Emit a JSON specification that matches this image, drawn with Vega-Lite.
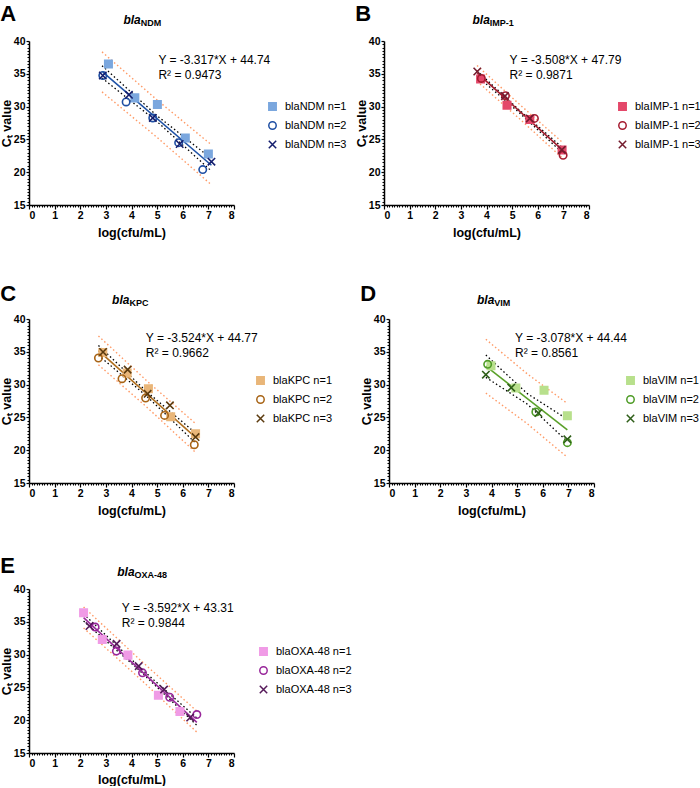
{
"$schema": "https://vega.github.io/schema/vega-lite/v6.json",
"padding": {"left": 0, "top": 2, "right": 40, "bottom": 0},
"background": "white",
"config": {
 "view": {"stroke": null},
 "axis": {"grid": false, "domainColor": "black", "domainWidth": 1.5, "tickColor": "black", "tickWidth": 1.2, "labelFont": "Liberation Sans", "labelFontWeight": "bold", "labelFontSize": 10.5, "labelColor": "black", "titleFont": "Liberation Sans", "titleFontWeight": "bold", "titleFontSize": 12.5, "titleColor": "black"},
 "title": {"anchor": "start", "frame": "bounds", "fontSize": 22, "fontWeight": "bold", "font": "Liberation Sans", "color": "black", "offset": -12},
 "text": {"font": "Liberation Sans", "color": "black"},
 "legend": {"labelFont": "Liberation Sans", "labelFontSize": 11, "labelColor": "black", "labelLimit": 300, "symbolSize": 55, "symbolStrokeWidth": 1.5, "rowPadding": 4, "labelOffset": 7}
},
"datasets": {
 "pts": [
  {"panel":"A","series":"n=1","x":3.10,"y":36.48},{"panel":"A","series":"n=1","x":4.13,"y":31.33},{"panel":"A","series":"n=1","x":5.01,"y":30.31},{"panel":"A","series":"n=1","x":6.10,"y":25.2},{"panel":"A","series":"n=1","x":7.00,"y":22.76},
  {"panel":"A","series":"n=2","x":2.88,"y":34.74},{"panel":"A","series":"n=2","x":3.79,"y":30.71},{"panel":"A","series":"n=2","x":4.83,"y":28.27},{"panel":"A","series":"n=2","x":5.84,"y":24.5},{"panel":"A","series":"n=2","x":6.78,"y":20.4},
  {"panel":"A","series":"n=3","x":2.88,"y":34.74},{"panel":"A","series":"n=3","x":3.90,"y":31.8},{"panel":"A","series":"n=3","x":4.83,"y":28.27},{"panel":"A","series":"n=3","x":5.88,"y":24.3},{"panel":"A","series":"n=3","x":7.12,"y":21.6},
  {"panel":"B","series":"n=1","x":3.77,"y":34.2},{"panel":"B","series":"n=1","x":4.80,"y":30.2},{"panel":"B","series":"n=1","x":5.69,"y":28.05},{"panel":"B","series":"n=1","x":6.95,"y":23.4},
  {"panel":"B","series":"n=2","x":3.80,"y":34.3},{"panel":"B","series":"n=2","x":4.74,"y":31.65},{"panel":"B","series":"n=2","x":5.87,"y":28.2},{"panel":"B","series":"n=2","x":6.99,"y":22.58},
  {"panel":"B","series":"n=3","x":3.64,"y":35.35},{"panel":"B","series":"n=3","x":4.72,"y":31.6},{"panel":"B","series":"n=3","x":5.69,"y":28.2},{"panel":"B","series":"n=3","x":6.94,"y":23.4},
  {"panel":"C","series":"n=1","x":2.88,"y":34.9},{"panel":"C","series":"n=1","x":3.83,"y":31.77},{"panel":"C","series":"n=1","x":4.66,"y":29.38},{"panel":"C","series":"n=1","x":5.53,"y":25.11},{"panel":"C","series":"n=1","x":6.50,"y":22.52},
  {"panel":"C","series":"n=2","x":2.71,"y":34.05},{"panel":"C","series":"n=2","x":3.63,"y":30.9},{"panel":"C","series":"n=2","x":4.55,"y":27.96},{"panel":"C","series":"n=2","x":5.29,"y":25.3},{"panel":"C","series":"n=2","x":6.45,"y":20.84},
  {"panel":"C","series":"n=3","x":2.89,"y":34.97},{"panel":"C","series":"n=3","x":3.85,"y":32.28},{"panel":"C","series":"n=3","x":4.63,"y":28.6},{"panel":"C","series":"n=3","x":5.50,"y":26.84},{"panel":"C","series":"n=3","x":6.50,"y":22.0},
  {"panel":"D","series":"n=1","x":3.98,"y":32.89},{"panel":"D","series":"n=1","x":4.95,"y":29.48},{"panel":"D","series":"n=1","x":6.05,"y":29.13},{"panel":"D","series":"n=1","x":6.96,"y":25.26},
  {"panel":"D","series":"n=2","x":3.85,"y":33.09},{"panel":"D","series":"n=2","x":5.73,"y":25.82},{"panel":"D","series":"n=2","x":6.96,"y":21.15},
  {"panel":"D","series":"n=3","x":3.78,"y":31.51},{"panel":"D","series":"n=3","x":4.77,"y":29.53},{"panel":"D","series":"n=3","x":5.83,"y":25.67},{"panel":"D","series":"n=3","x":6.96,"y":21.66},
  {"panel":"E","series":"n=1","x":2.13,"y":36.38},{"panel":"E","series":"n=1","x":2.86,"y":32.31},{"panel":"E","series":"n=1","x":3.86,"y":29.92},{"panel":"E","series":"n=1","x":5.05,"y":23.81},{"panel":"E","series":"n=1","x":5.89,"y":21.31},
  {"panel":"E","series":"n=2","x":2.58,"y":34.2},{"panel":"E","series":"n=2","x":3.41,"y":30.53},{"panel":"E","series":"n=2","x":4.43,"y":27.22},{"panel":"E","series":"n=2","x":5.49,"y":23.5},{"panel":"E","series":"n=2","x":6.55,"y":20.86},
  {"panel":"E","series":"n=3","x":2.36,"y":34.35},{"panel":"E","series":"n=3","x":3.42,"y":31.65},{"panel":"E","series":"n=3","x":4.28,"y":28.24},{"panel":"E","series":"n=3","x":5.27,"y":24.67},{"panel":"E","series":"n=3","x":6.29,"y":20.4}
 ],
 "bands": [
  {"panel":"A","kind":"pi","side":"hi","x":2.85,"y":38.34},{"panel":"A","kind":"pi","side":"hi","x":5.0,"y":31.0},{"panel":"A","kind":"pi","side":"hi","x":7.12,"y":24.17},
  {"panel":"A","kind":"pi","side":"lo","x":2.85,"y":32.24},{"panel":"A","kind":"pi","side":"lo","x":5.0,"y":25.3},{"panel":"A","kind":"pi","side":"lo","x":7.12,"y":18.07},
  {"panel":"A","kind":"ci","side":"hi","x":2.85,"y":36.24},{"panel":"A","kind":"ci","side":"hi","x":5.0,"y":28.6},{"panel":"A","kind":"ci","side":"hi","x":7.12,"y":22.07},
  {"panel":"A","kind":"ci","side":"lo","x":2.85,"y":34.34},{"panel":"A","kind":"ci","side":"lo","x":5.0,"y":27.7},{"panel":"A","kind":"ci","side":"lo","x":7.12,"y":20.17},
  {"panel":"B","kind":"pi","side":"hi","x":3.63,"y":36.26},{"panel":"B","kind":"pi","side":"hi","x":5.3,"y":30.3},{"panel":"B","kind":"pi","side":"hi","x":6.98,"y":24.5},
  {"panel":"B","kind":"pi","side":"lo","x":3.63,"y":33.86},{"panel":"B","kind":"pi","side":"lo","x":5.3,"y":28.1},{"panel":"B","kind":"pi","side":"lo","x":6.98,"y":22.1},
  {"panel":"B","kind":"ci","side":"hi","x":3.63,"y":35.46},{"panel":"B","kind":"ci","side":"hi","x":5.3,"y":29.4},{"panel":"B","kind":"ci","side":"hi","x":6.98,"y":23.7},
  {"panel":"B","kind":"ci","side":"lo","x":3.63,"y":34.66},{"panel":"B","kind":"ci","side":"lo","x":5.3,"y":29.0},{"panel":"B","kind":"ci","side":"lo","x":6.98,"y":22.9},
  {"panel":"C","kind":"pi","side":"hi","x":2.71,"y":37.42},{"panel":"C","kind":"pi","side":"hi","x":4.6,"y":30.56},{"panel":"C","kind":"pi","side":"hi","x":6.5,"y":24.06},
  {"panel":"C","kind":"pi","side":"lo","x":2.71,"y":33.02},{"panel":"C","kind":"pi","side":"lo","x":4.6,"y":26.56},{"panel":"C","kind":"pi","side":"lo","x":6.5,"y":19.66},
  {"panel":"C","kind":"ci","side":"hi","x":2.71,"y":35.97},{"panel":"C","kind":"ci","side":"hi","x":4.6,"y":28.91},{"panel":"C","kind":"ci","side":"hi","x":6.5,"y":22.61},
  {"panel":"C","kind":"ci","side":"lo","x":2.71,"y":34.47},{"panel":"C","kind":"ci","side":"lo","x":4.6,"y":28.21},{"panel":"C","kind":"ci","side":"lo","x":6.5,"y":21.11},
  {"panel":"D","kind":"pi","side":"hi","x":3.78,"y":36.9},{"panel":"D","kind":"pi","side":"hi","x":5.4,"y":31.62},{"panel":"D","kind":"pi","side":"hi","x":6.96,"y":27.12},
  {"panel":"D","kind":"pi","side":"lo","x":3.78,"y":28.7},{"panel":"D","kind":"pi","side":"lo","x":5.4,"y":24.02},{"panel":"D","kind":"pi","side":"lo","x":6.96,"y":18.92},
  {"panel":"D","kind":"ci","side":"hi","x":3.78,"y":34.5},{"panel":"D","kind":"ci","side":"hi","x":5.4,"y":28.62},{"panel":"D","kind":"ci","side":"hi","x":6.96,"y":24.72},
  {"panel":"D","kind":"ci","side":"lo","x":3.78,"y":31.1},{"panel":"D","kind":"ci","side":"lo","x":5.4,"y":27.02},{"panel":"D","kind":"ci","side":"lo","x":6.96,"y":21.32},
  {"panel":"E","kind":"pi","side":"hi","x":2.13,"y":37.26},{"panel":"E","kind":"pi","side":"hi","x":4.35,"y":29.14},{"panel":"E","kind":"pi","side":"hi","x":6.55,"y":21.38},
  {"panel":"E","kind":"pi","side":"lo","x":2.13,"y":34.06},{"panel":"E","kind":"pi","side":"lo","x":4.35,"y":26.24},{"panel":"E","kind":"pi","side":"lo","x":6.55,"y":18.18},
  {"panel":"E","kind":"ci","side":"hi","x":2.13,"y":36.21},{"panel":"E","kind":"ci","side":"hi","x":4.35,"y":27.94},{"panel":"E","kind":"ci","side":"hi","x":6.55,"y":20.33},
  {"panel":"E","kind":"ci","side":"lo","x":2.13,"y":35.11},{"panel":"E","kind":"ci","side":"lo","x":4.35,"y":27.44},{"panel":"E","kind":"ci","side":"lo","x":6.55,"y":19.23}
 ]
},
"vconcat": [
 {"hconcat": [
  {"width":205,"height":164,"title":{"text":"A"},"resolve":{"axis":{"x":"independent","y":"independent"}},
   "layer":[
    {"data":{"name":"bands"},"transform":[{"filter":"datum.panel==='A' && datum.kind==='pi'"}],"mark":{"type":"line","stroke":"#ff9a66","strokeWidth":1.4,"strokeDash":[1.5,2.5]},
     "encoding":{"x":{"field":"x","type":"quantitative","scale":{"domain":[0,8],"nice":false,"zero":false},"axis":{"orient":"bottom","values":[0.1,0.2,0.3,0.4,0.5,0.6,0.7,0.8,0.9,1.1,1.2,1.3,1.4,1.5,1.6,1.7,1.8,1.9,2.1,2.2,2.3,2.4,2.5,2.6,2.7,2.8,2.9,3.1,3.2,3.3,3.4,3.5,3.6,3.7,3.8,3.9,4.1,4.2,4.3,4.4,4.5,4.6,4.7,4.8,4.9,5.1,5.2,5.3,5.4,5.5,5.6,5.7,5.8,5.9,6.1,6.2,6.3,6.4,6.5,6.6,6.7,6.8,6.9,7.1,7.2,7.3,7.4,7.5,7.6,7.7,7.8,7.9],"labels":false,"domain":false,"tickSize":2,"tickWidth":1,"title":null}},"y":{"field":"y","type":"quantitative","scale":{"domain":[15,40],"nice":false,"zero":false},"axis":{"orient":"left","values":[15.5,16,16.5,17,17.5,18,18.5,19,19.5,20.5,21,21.5,22,22.5,23,23.5,24,24.5,25.5,26,26.5,27,27.5,28,28.5,29,29.5,30.5,31,31.5,32,32.5,33,33.5,34,34.5,35.5,36,36.5,37,37.5,38,38.5,39,39.5],"labels":false,"domain":false,"tickSize":2,"tickWidth":1,"title":null}},"detail":{"field":"side"}}},
    {"data":{"name":"bands"},"transform":[{"filter":"datum.panel==='A' && datum.kind==='ci'"}],"mark":{"type":"line","stroke":"black","strokeWidth":1.3,"strokeDash":[1.5,2.5]},
     "encoding":{"x":{"field":"x","type":"quantitative","scale":{"domain":[0,8]},"axis":null},"y":{"field":"y","type":"quantitative","scale":{"domain":[15,40]},"axis":null},"detail":{"field":"side"}}},
    {"data":{"name":"pts"},"transform":[{"filter":"datum.panel==='A'"},{"regression":"y","on":"x"}],"mark":{"type":"line","stroke":"#1f52a6","strokeWidth":1.6},
     "encoding":{"x":{"field":"x","type":"quantitative","scale":{"domain":[0,8]},"axis":null},"y":{"field":"y","type":"quantitative","scale":{"domain":[15,40]},"axis":null}}},
    {"data":{"name":"pts"},"transform":[{"filter":"datum.panel==='A'"}],"mark":{"type":"point","size":55,"strokeWidth":1.6,"opacity":1},
     "encoding":{"x":{"field":"x","type":"quantitative","scale":{"domain":[0,8]},"axis":{"orient":"bottom","values":[0,1,2,3,4,5,6,7,8],"title":"log(cfu/mL)","tickSize":4,"labelPadding":1,"titlePadding":6}},
      "y":{"field":"y","type":"quantitative","scale":{"domain":[15,40]},"axis":{"orient":"left","values":[15,20,25,30,35,40],"title":"Cₜ value","tickSize":3,"labelPadding":1,"titlePadding":0}},
      "shape":{"field":"series","type":"nominal","scale":{"domain":["n=1","n=2","n=3"],"range":["square","circle","M-1,-1L1,1M-1,1L1,-1"]},"legend":{"orient":"none","legendX":238,"legendY":60,"title":null,"labelExpr":"'blaNDM ' + datum.label"}},
      "fill":{"field":"series","type":"nominal","scale":{"domain":["n=1","n=2","n=3"],"range":["#7ba7de","transparent","transparent"]},"legend":{"orient":"none","legendX":238,"legendY":60,"title":null,"labelExpr":"'blaNDM ' + datum.label"}},
      "stroke":{"field":"series","type":"nominal","scale":{"domain":["n=1","n=2","n=3"],"range":["#7ba7de","#1f4fa3","#141e6e"]},"legend":{"orient":"none","legendX":238,"legendY":60,"title":null,"labelExpr":"'blaNDM ' + datum.label"}}}},
    {"data":{"values":[{}]},"mark":{"type":"text","align":"left","baseline":"middle","fontSize":12},"encoding":{"x":{"datum":5.05,"type":"quantitative","scale":{"domain":[0,8]},"axis":null},"y":{"datum":37.15,"type":"quantitative","scale":{"domain":[15,40]},"axis":null},"text":{"value":"Y = -3.317*X + 44.74"}}},
    {"data":{"values":[{}]},"mark":{"type":"text","align":"left","baseline":"middle","fontSize":12},"encoding":{"x":{"datum":5.05,"type":"quantitative","scale":{"domain":[0,8]},"axis":null},"y":{"datum":34.8,"type":"quantitative","scale":{"domain":[15,40]},"axis":null},"text":{"value":"R² = 0.9473"}}},
    {"data":{"values":[{}]},"mark":{"type":"text","align":"right","baseline":"middle","fontSize":12,"fontStyle":"italic","fontWeight":"bold"},"encoding":{"x":{"datum":4.36,"type":"quantitative","scale":{"domain":[0,8]},"axis":null},"y":{"datum":43.25,"type":"quantitative","scale":{"domain":[15,40]},"axis":null},"text":{"value":"bla"}}},
    {"data":{"values":[{}]},"mark":{"type":"text","align":"left","baseline":"middle","fontSize":9,"fontWeight":"bold","dy":3},"encoding":{"x":{"datum":4.36,"type":"quantitative","scale":{"domain":[0,8]},"axis":null},"y":{"datum":43.25,"type":"quantitative","scale":{"domain":[15,40]},"axis":null},"text":{"value":"NDM"}}}
   ]},
  {"width":205,"height":164,"title":{"text":"B"},"resolve":{"axis":{"x":"independent","y":"independent"}},
   "layer":[
    {"data":{"name":"bands"},"transform":[{"filter":"datum.panel==='B' && datum.kind==='pi'"}],"mark":{"type":"line","stroke":"#ff9a66","strokeWidth":1.4,"strokeDash":[1.5,2.5]},
     "encoding":{"x":{"field":"x","type":"quantitative","scale":{"domain":[0,8],"nice":false,"zero":false},"axis":{"orient":"bottom","values":[0.1,0.2,0.3,0.4,0.5,0.6,0.7,0.8,0.9,1.1,1.2,1.3,1.4,1.5,1.6,1.7,1.8,1.9,2.1,2.2,2.3,2.4,2.5,2.6,2.7,2.8,2.9,3.1,3.2,3.3,3.4,3.5,3.6,3.7,3.8,3.9,4.1,4.2,4.3,4.4,4.5,4.6,4.7,4.8,4.9,5.1,5.2,5.3,5.4,5.5,5.6,5.7,5.8,5.9,6.1,6.2,6.3,6.4,6.5,6.6,6.7,6.8,6.9,7.1,7.2,7.3,7.4,7.5,7.6,7.7,7.8,7.9],"labels":false,"domain":false,"tickSize":2,"tickWidth":1,"title":null}},"y":{"field":"y","type":"quantitative","scale":{"domain":[15,40],"nice":false,"zero":false},"axis":{"orient":"left","values":[15.5,16,16.5,17,17.5,18,18.5,19,19.5,20.5,21,21.5,22,22.5,23,23.5,24,24.5,25.5,26,26.5,27,27.5,28,28.5,29,29.5,30.5,31,31.5,32,32.5,33,33.5,34,34.5,35.5,36,36.5,37,37.5,38,38.5,39,39.5],"labels":false,"domain":false,"tickSize":2,"tickWidth":1,"title":null}},"detail":{"field":"side"}}},
    {"data":{"name":"bands"},"transform":[{"filter":"datum.panel==='B' && datum.kind==='ci'"}],"mark":{"type":"line","stroke":"black","strokeWidth":1.3,"strokeDash":[1.5,2.5]},
     "encoding":{"x":{"field":"x","type":"quantitative","scale":{"domain":[0,8]},"axis":null},"y":{"field":"y","type":"quantitative","scale":{"domain":[15,40]},"axis":null},"detail":{"field":"side"}}},
    {"data":{"name":"pts"},"transform":[{"filter":"datum.panel==='B'"},{"regression":"y","on":"x"}],"mark":{"type":"line","stroke":"#a11b2b","strokeWidth":1.6},
     "encoding":{"x":{"field":"x","type":"quantitative","scale":{"domain":[0,8]},"axis":null},"y":{"field":"y","type":"quantitative","scale":{"domain":[15,40]},"axis":null}}},
    {"data":{"name":"pts"},"transform":[{"filter":"datum.panel==='B'"}],"mark":{"type":"point","size":55,"strokeWidth":1.6,"opacity":1},
     "encoding":{"x":{"field":"x","type":"quantitative","scale":{"domain":[0,8]},"axis":{"orient":"bottom","values":[0,1,2,3,4,5,6,7,8],"title":"log(cfu/mL)","tickSize":4,"labelPadding":1,"titlePadding":6}},
      "y":{"field":"y","type":"quantitative","scale":{"domain":[15,40]},"axis":{"orient":"left","values":[15,20,25,30,35,40],"title":"Cₜ value","tickSize":3,"labelPadding":1,"titlePadding":0}},
      "shape":{"field":"series","type":"nominal","scale":{"domain":["n=1","n=2","n=3"],"range":["square","circle","M-1,-1L1,1M-1,1L1,-1"]},"legend":{"orient":"none","legendX":233,"legendY":60,"title":null,"labelExpr":"'blaIMP-1 ' + datum.label"}},
      "fill":{"field":"series","type":"nominal","scale":{"domain":["n=1","n=2","n=3"],"range":["#e4486a","transparent","transparent"]},"legend":{"orient":"none","legendX":233,"legendY":60,"title":null,"labelExpr":"'blaIMP-1 ' + datum.label"}},
      "stroke":{"field":"series","type":"nominal","scale":{"domain":["n=1","n=2","n=3"],"range":["#e4486a","#a51c30","#741c2e"]},"legend":{"orient":"none","legendX":233,"legendY":60,"title":null,"labelExpr":"'blaIMP-1 ' + datum.label"}}}},
    {"data":{"values":[{}]},"mark":{"type":"text","align":"left","baseline":"middle","fontSize":12},"encoding":{"x":{"datum":4.9,"type":"quantitative","scale":{"domain":[0,8]},"axis":null},"y":{"datum":37.15,"type":"quantitative","scale":{"domain":[15,40]},"axis":null},"text":{"value":"Y = -3.508*X + 47.79"}}},
    {"data":{"values":[{}]},"mark":{"type":"text","align":"left","baseline":"middle","fontSize":12},"encoding":{"x":{"datum":4.9,"type":"quantitative","scale":{"domain":[0,8]},"axis":null},"y":{"datum":34.8,"type":"quantitative","scale":{"domain":[15,40]},"axis":null},"text":{"value":"R² = 0.9871"}}},
    {"data":{"values":[{}]},"mark":{"type":"text","align":"right","baseline":"middle","fontSize":12,"fontStyle":"italic","fontWeight":"bold"},"encoding":{"x":{"datum":4.13,"type":"quantitative","scale":{"domain":[0,8]},"axis":null},"y":{"datum":43.25,"type":"quantitative","scale":{"domain":[15,40]},"axis":null},"text":{"value":"bla"}}},
    {"data":{"values":[{}]},"mark":{"type":"text","align":"left","baseline":"middle","fontSize":9,"fontWeight":"bold","dy":3},"encoding":{"x":{"datum":4.13,"type":"quantitative","scale":{"domain":[0,8]},"axis":null},"y":{"datum":43.25,"type":"quantitative","scale":{"domain":[15,40]},"axis":null},"text":{"value":"IMP-1"}}}
   ]}
 ], "spacing": 150, "bounds": "flush", "resolve": {"scale": {"x":"independent","y":"independent","shape":"independent","fill":"independent","stroke":"independent"}, "legend": {"shape":"independent","fill":"independent","stroke":"independent"}}},
 {"vconcat": [
 {"hconcat": [
  {"width":205,"height":164,"title":{"text":"C"},"resolve":{"axis":{"x":"independent","y":"independent"}},
   "layer":[
    {"data":{"name":"bands"},"transform":[{"filter":"datum.panel==='C' && datum.kind==='pi'"}],"mark":{"type":"line","stroke":"#ff9a66","strokeWidth":1.4,"strokeDash":[1.5,2.5]},
     "encoding":{"x":{"field":"x","type":"quantitative","scale":{"domain":[0,8],"nice":false,"zero":false},"axis":{"orient":"bottom","values":[0.1,0.2,0.3,0.4,0.5,0.6,0.7,0.8,0.9,1.1,1.2,1.3,1.4,1.5,1.6,1.7,1.8,1.9,2.1,2.2,2.3,2.4,2.5,2.6,2.7,2.8,2.9,3.1,3.2,3.3,3.4,3.5,3.6,3.7,3.8,3.9,4.1,4.2,4.3,4.4,4.5,4.6,4.7,4.8,4.9,5.1,5.2,5.3,5.4,5.5,5.6,5.7,5.8,5.9,6.1,6.2,6.3,6.4,6.5,6.6,6.7,6.8,6.9,7.1,7.2,7.3,7.4,7.5,7.6,7.7,7.8,7.9],"labels":false,"domain":false,"tickSize":2,"tickWidth":1,"title":null}},"y":{"field":"y","type":"quantitative","scale":{"domain":[15,40],"nice":false,"zero":false},"axis":{"orient":"left","values":[15.5,16,16.5,17,17.5,18,18.5,19,19.5,20.5,21,21.5,22,22.5,23,23.5,24,24.5,25.5,26,26.5,27,27.5,28,28.5,29,29.5,30.5,31,31.5,32,32.5,33,33.5,34,34.5,35.5,36,36.5,37,37.5,38,38.5,39,39.5],"labels":false,"domain":false,"tickSize":2,"tickWidth":1,"title":null}},"detail":{"field":"side"}}},
    {"data":{"name":"bands"},"transform":[{"filter":"datum.panel==='C' && datum.kind==='ci'"}],"mark":{"type":"line","stroke":"black","strokeWidth":1.3,"strokeDash":[1.5,2.5]},
     "encoding":{"x":{"field":"x","type":"quantitative","scale":{"domain":[0,8]},"axis":null},"y":{"field":"y","type":"quantitative","scale":{"domain":[15,40]},"axis":null},"detail":{"field":"side"}}},
    {"data":{"name":"pts"},"transform":[{"filter":"datum.panel==='C'"},{"regression":"y","on":"x"}],"mark":{"type":"line","stroke":"#b07020","strokeWidth":1.6},
     "encoding":{"x":{"field":"x","type":"quantitative","scale":{"domain":[0,8]},"axis":null},"y":{"field":"y","type":"quantitative","scale":{"domain":[15,40]},"axis":null}}},
    {"data":{"name":"pts"},"transform":[{"filter":"datum.panel==='C'"}],"mark":{"type":"point","size":55,"strokeWidth":1.6,"opacity":1},
     "encoding":{"x":{"field":"x","type":"quantitative","scale":{"domain":[0,8]},"axis":{"orient":"bottom","values":[0,1,2,3,4,5,6,7,8],"title":"log(cfu/mL)","tickSize":4,"labelPadding":1,"titlePadding":6}},
      "y":{"field":"y","type":"quantitative","scale":{"domain":[15,40]},"axis":{"orient":"left","values":[15,20,25,30,35,40],"title":"Cₜ value","tickSize":3,"labelPadding":1,"titlePadding":0}},
      "shape":{"field":"series","type":"nominal","scale":{"domain":["n=1","n=2","n=3"],"range":["square","circle","M-1,-1L1,1M-1,1L1,-1"]},"legend":{"orient":"none","legendX":226,"legendY":56,"title":null,"labelExpr":"'blaKPC ' + datum.label"}},
      "fill":{"field":"series","type":"nominal","scale":{"domain":["n=1","n=2","n=3"],"range":["#e9b679","transparent","transparent"]},"legend":{"orient":"none","legendX":226,"legendY":56,"title":null,"labelExpr":"'blaKPC ' + datum.label"}},
      "stroke":{"field":"series","type":"nominal","scale":{"domain":["n=1","n=2","n=3"],"range":["#e9b679","#a86416","#5b3a0e"]},"legend":{"orient":"none","legendX":226,"legendY":56,"title":null,"labelExpr":"'blaKPC ' + datum.label"}}}},
    {"data":{"values":[{}]},"mark":{"type":"text","align":"left","baseline":"middle","fontSize":12},"encoding":{"x":{"datum":4.56,"type":"quantitative","scale":{"domain":[0,8]},"axis":null},"y":{"datum":37.15,"type":"quantitative","scale":{"domain":[15,40]},"axis":null},"text":{"value":"Y = -3.524*X + 44.77"}}},
    {"data":{"values":[{}]},"mark":{"type":"text","align":"left","baseline":"middle","fontSize":12},"encoding":{"x":{"datum":4.56,"type":"quantitative","scale":{"domain":[0,8]},"axis":null},"y":{"datum":34.8,"type":"quantitative","scale":{"domain":[15,40]},"axis":null},"text":{"value":"R² = 0.9662"}}},
    {"data":{"values":[{}]},"mark":{"type":"text","align":"right","baseline":"middle","fontSize":12,"fontStyle":"italic","fontWeight":"bold"},"encoding":{"x":{"datum":3.92,"type":"quantitative","scale":{"domain":[0,8]},"axis":null},"y":{"datum":42.85,"type":"quantitative","scale":{"domain":[15,40]},"axis":null},"text":{"value":"bla"}}},
    {"data":{"values":[{}]},"mark":{"type":"text","align":"left","baseline":"middle","fontSize":9,"fontWeight":"bold","dy":3},"encoding":{"x":{"datum":3.92,"type":"quantitative","scale":{"domain":[0,8]},"axis":null},"y":{"datum":42.85,"type":"quantitative","scale":{"domain":[15,40]},"axis":null},"text":{"value":"KPC"}}}
   ]},
  {"width":205,"height":164,"title":{"text":"D"},"resolve":{"axis":{"x":"independent","y":"independent"}},
   "layer":[
    {"data":{"name":"bands"},"transform":[{"filter":"datum.panel==='D' && datum.kind==='pi'"}],"mark":{"type":"line","stroke":"#ff9a66","strokeWidth":1.4,"strokeDash":[1.5,2.5]},
     "encoding":{"x":{"field":"x","type":"quantitative","scale":{"domain":[0,8],"nice":false,"zero":false},"axis":{"orient":"bottom","values":[0.1,0.2,0.3,0.4,0.5,0.6,0.7,0.8,0.9,1.1,1.2,1.3,1.4,1.5,1.6,1.7,1.8,1.9,2.1,2.2,2.3,2.4,2.5,2.6,2.7,2.8,2.9,3.1,3.2,3.3,3.4,3.5,3.6,3.7,3.8,3.9,4.1,4.2,4.3,4.4,4.5,4.6,4.7,4.8,4.9,5.1,5.2,5.3,5.4,5.5,5.6,5.7,5.8,5.9,6.1,6.2,6.3,6.4,6.5,6.6,6.7,6.8,6.9,7.1,7.2,7.3,7.4,7.5,7.6,7.7,7.8,7.9],"labels":false,"domain":false,"tickSize":2,"tickWidth":1,"title":null}},"y":{"field":"y","type":"quantitative","scale":{"domain":[15,40],"nice":false,"zero":false},"axis":{"orient":"left","values":[15.5,16,16.5,17,17.5,18,18.5,19,19.5,20.5,21,21.5,22,22.5,23,23.5,24,24.5,25.5,26,26.5,27,27.5,28,28.5,29,29.5,30.5,31,31.5,32,32.5,33,33.5,34,34.5,35.5,36,36.5,37,37.5,38,38.5,39,39.5],"labels":false,"domain":false,"tickSize":2,"tickWidth":1,"title":null}},"detail":{"field":"side"}}},
    {"data":{"name":"bands"},"transform":[{"filter":"datum.panel==='D' && datum.kind==='ci'"}],"mark":{"type":"line","stroke":"black","strokeWidth":1.3,"strokeDash":[1.5,2.5]},
     "encoding":{"x":{"field":"x","type":"quantitative","scale":{"domain":[0,8]},"axis":null},"y":{"field":"y","type":"quantitative","scale":{"domain":[15,40]},"axis":null},"detail":{"field":"side"}}},
    {"data":{"name":"pts"},"transform":[{"filter":"datum.panel==='D'"},{"regression":"y","on":"x"}],"mark":{"type":"line","stroke":"#5aa02a","strokeWidth":1.6},
     "encoding":{"x":{"field":"x","type":"quantitative","scale":{"domain":[0,8]},"axis":null},"y":{"field":"y","type":"quantitative","scale":{"domain":[15,40]},"axis":null}}},
    {"data":{"name":"pts"},"transform":[{"filter":"datum.panel==='D'"}],"mark":{"type":"point","size":55,"strokeWidth":1.6,"opacity":1},
     "encoding":{"x":{"field":"x","type":"quantitative","scale":{"domain":[0,8]},"axis":{"orient":"bottom","values":[0,1,2,3,4,5,6,7,8],"title":"log(cfu/mL)","tickSize":4,"labelPadding":1,"titlePadding":6}},
      "y":{"field":"y","type":"quantitative","scale":{"domain":[15,40]},"axis":{"orient":"left","values":[15,20,25,30,35,40],"title":"Cₜ value","tickSize":3,"labelPadding":1,"titlePadding":0}},
      "shape":{"field":"series","type":"nominal","scale":{"domain":["n=1","n=2","n=3"],"range":["square","circle","M-1,-1L1,1M-1,1L1,-1"]},"legend":{"orient":"none","legendX":236,"legendY":56,"title":null,"labelExpr":"'blaVIM ' + datum.label"}},
      "fill":{"field":"series","type":"nominal","scale":{"domain":["n=1","n=2","n=3"],"range":["#b8e08c","transparent","transparent"]},"legend":{"orient":"none","legendX":236,"legendY":56,"title":null,"labelExpr":"'blaVIM ' + datum.label"}},
      "stroke":{"field":"series","type":"nominal","scale":{"domain":["n=1","n=2","n=3"],"range":["#b8e08c","#4e9c26","#2e5e18"]},"legend":{"orient":"none","legendX":236,"legendY":56,"title":null,"labelExpr":"'blaVIM ' + datum.label"}}}},
    {"data":{"values":[{}]},"mark":{"type":"text","align":"left","baseline":"middle","fontSize":12},"encoding":{"x":{"datum":4.92,"type":"quantitative","scale":{"domain":[0,8]},"axis":null},"y":{"datum":37.15,"type":"quantitative","scale":{"domain":[15,40]},"axis":null},"text":{"value":"Y = -3.078*X + 44.44"}}},
    {"data":{"values":[{}]},"mark":{"type":"text","align":"left","baseline":"middle","fontSize":12},"encoding":{"x":{"datum":4.92,"type":"quantitative","scale":{"domain":[0,8]},"axis":null},"y":{"datum":34.85,"type":"quantitative","scale":{"domain":[15,40]},"axis":null},"text":{"value":"R² = 0.8561"}}},
    {"data":{"values":[{}]},"mark":{"type":"text","align":"right","baseline":"middle","fontSize":12,"fontStyle":"italic","fontWeight":"bold"},"encoding":{"x":{"datum":4.11,"type":"quantitative","scale":{"domain":[0,8]},"axis":null},"y":{"datum":42.85,"type":"quantitative","scale":{"domain":[15,40]},"axis":null},"text":{"value":"bla"}}},
    {"data":{"values":[{}]},"mark":{"type":"text","align":"left","baseline":"middle","fontSize":9,"fontWeight":"bold","dy":3},"encoding":{"x":{"datum":4.11,"type":"quantitative","scale":{"domain":[0,8]},"axis":null},"y":{"datum":42.85,"type":"quantitative","scale":{"domain":[15,40]},"axis":null},"text":{"value":"VIM"}}}
   ]}
 ], "spacing": 155, "bounds": "flush", "resolve": {"scale": {"x":"independent","y":"independent","shape":"independent","fill":"independent","stroke":"independent"}, "legend": {"shape":"independent","fill":"independent","stroke":"independent"}}},
 {"hconcat": [
  {"width":205,"height":164,"title":{"text":"E"},"resolve":{"axis":{"x":"independent","y":"independent"}},
   "layer":[
    {"data":{"name":"bands"},"transform":[{"filter":"datum.panel==='E' && datum.kind==='pi'"}],"mark":{"type":"line","stroke":"#ff9a66","strokeWidth":1.4,"strokeDash":[1.5,2.5]},
     "encoding":{"x":{"field":"x","type":"quantitative","scale":{"domain":[0,8],"nice":false,"zero":false},"axis":{"orient":"bottom","values":[0.1,0.2,0.3,0.4,0.5,0.6,0.7,0.8,0.9,1.1,1.2,1.3,1.4,1.5,1.6,1.7,1.8,1.9,2.1,2.2,2.3,2.4,2.5,2.6,2.7,2.8,2.9,3.1,3.2,3.3,3.4,3.5,3.6,3.7,3.8,3.9,4.1,4.2,4.3,4.4,4.5,4.6,4.7,4.8,4.9,5.1,5.2,5.3,5.4,5.5,5.6,5.7,5.8,5.9,6.1,6.2,6.3,6.4,6.5,6.6,6.7,6.8,6.9,7.1,7.2,7.3,7.4,7.5,7.6,7.7,7.8,7.9],"labels":false,"domain":false,"tickSize":2,"tickWidth":1,"title":null}},"y":{"field":"y","type":"quantitative","scale":{"domain":[15,40],"nice":false,"zero":false},"axis":{"orient":"left","values":[15.5,16,16.5,17,17.5,18,18.5,19,19.5,20.5,21,21.5,22,22.5,23,23.5,24,24.5,25.5,26,26.5,27,27.5,28,28.5,29,29.5,30.5,31,31.5,32,32.5,33,33.5,34,34.5,35.5,36,36.5,37,37.5,38,38.5,39,39.5],"labels":false,"domain":false,"tickSize":2,"tickWidth":1,"title":null}},"detail":{"field":"side"}}},
    {"data":{"name":"bands"},"transform":[{"filter":"datum.panel==='E' && datum.kind==='ci'"}],"mark":{"type":"line","stroke":"black","strokeWidth":1.3,"strokeDash":[1.5,2.5]},
     "encoding":{"x":{"field":"x","type":"quantitative","scale":{"domain":[0,8]},"axis":null},"y":{"field":"y","type":"quantitative","scale":{"domain":[15,40]},"axis":null},"detail":{"field":"side"}}},
    {"data":{"name":"pts"},"transform":[{"filter":"datum.panel==='E'"},{"regression":"y","on":"x"}],"mark":{"type":"line","stroke":"#9a2a9c","strokeWidth":1.6},
     "encoding":{"x":{"field":"x","type":"quantitative","scale":{"domain":[0,8]},"axis":null},"y":{"field":"y","type":"quantitative","scale":{"domain":[15,40]},"axis":null}}},
    {"data":{"name":"pts"},"transform":[{"filter":"datum.panel==='E'"}],"mark":{"type":"point","size":55,"strokeWidth":1.6,"opacity":1},
     "encoding":{"x":{"field":"x","type":"quantitative","scale":{"domain":[0,8]},"axis":{"orient":"bottom","values":[0,1,2,3,4,5,6,7,8],"title":"log(cfu/mL)","tickSize":4,"labelPadding":1,"titlePadding":5}},
      "y":{"field":"y","type":"quantitative","scale":{"domain":[15,40]},"axis":{"orient":"left","values":[15,20,25,30,35,40],"title":"Cₜ value","tickSize":3,"labelPadding":1,"titlePadding":0}},
      "shape":{"field":"series","type":"nominal","scale":{"domain":["n=1","n=2","n=3"],"range":["square","circle","M-1,-1L1,1M-1,1L1,-1"]},"legend":{"orient":"none","legendX":229,"legendY":57,"title":null,"labelExpr":"'blaOXA-48 ' + datum.label"}},
      "fill":{"field":"series","type":"nominal","scale":{"domain":["n=1","n=2","n=3"],"range":["#f09be6","transparent","transparent"]},"legend":{"orient":"none","legendX":229,"legendY":57,"title":null,"labelExpr":"'blaOXA-48 ' + datum.label"}},
      "stroke":{"field":"series","type":"nominal","scale":{"domain":["n=1","n=2","n=3"],"range":["#f09be6","#98269a","#561a5a"]},"legend":{"orient":"none","legendX":229,"legendY":57,"title":null,"labelExpr":"'blaOXA-48 ' + datum.label"}}}},
    {"data":{"values":[{}]},"mark":{"type":"text","align":"left","baseline":"middle","fontSize":12},"encoding":{"x":{"datum":3.62,"type":"quantitative","scale":{"domain":[0,8]},"axis":null},"y":{"datum":37.15,"type":"quantitative","scale":{"domain":[15,40]},"axis":null},"text":{"value":"Y = -3.592*X + 43.31"}}},
    {"data":{"values":[{}]},"mark":{"type":"text","align":"left","baseline":"middle","fontSize":12},"encoding":{"x":{"datum":3.62,"type":"quantitative","scale":{"domain":[0,8]},"axis":null},"y":{"datum":34.85,"type":"quantitative","scale":{"domain":[15,40]},"axis":null},"text":{"value":"R² = 0.9844"}}},
    {"data":{"values":[{}]},"mark":{"type":"text","align":"right","baseline":"middle","fontSize":12,"fontStyle":"italic","fontWeight":"bold"},"encoding":{"x":{"datum":4.12,"type":"quantitative","scale":{"domain":[0,8]},"axis":null},"y":{"datum":42.65,"type":"quantitative","scale":{"domain":[15,40]},"axis":null},"text":{"value":"bla"}}},
    {"data":{"values":[{}]},"mark":{"type":"text","align":"left","baseline":"middle","fontSize":9,"fontWeight":"bold","dy":3},"encoding":{"x":{"datum":4.12,"type":"quantitative","scale":{"domain":[0,8]},"axis":null},"y":{"datum":42.65,"type":"quantitative","scale":{"domain":[15,40]},"axis":null},"text":{"value":"OXA-48"}}}
   ]}
 ], "bounds": "flush", "resolve": {"scale": {"x":"independent","y":"independent","shape":"independent","fill":"independent","stroke":"independent"}, "legend": {"shape":"independent","fill":"independent","stroke":"independent"}}}
 ], "spacing": 37, "resolve": {"scale": {"x":"independent","y":"independent","shape":"independent","fill":"independent","stroke":"independent"}, "legend": {"shape":"independent","fill":"independent","stroke":"independent"}}}
],
"spacing": 44,
"resolve": {"scale": {"x":"independent","y":"independent","shape":"independent","fill":"independent","stroke":"independent"}, "legend": {"shape":"independent","fill":"independent","stroke":"independent"}}
}
